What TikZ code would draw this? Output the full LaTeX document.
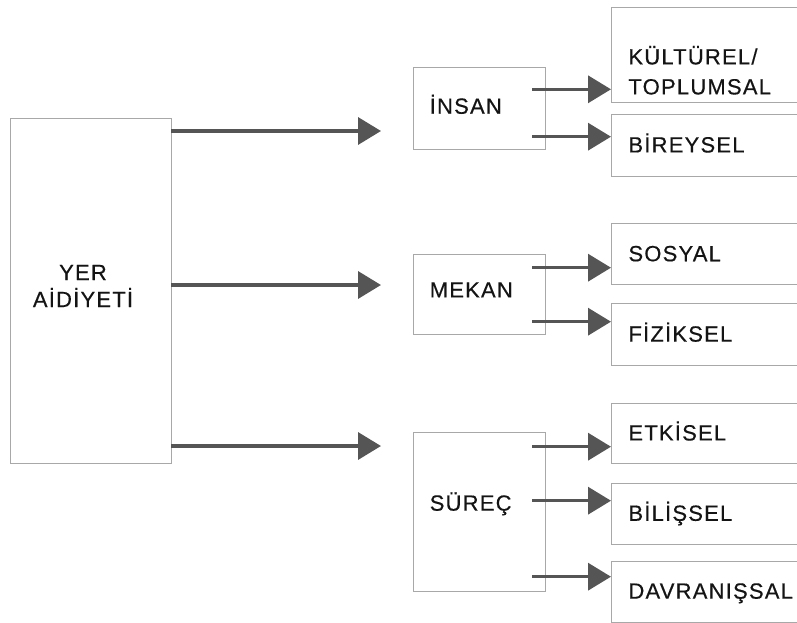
\documentclass[tikz,border=0pt]{standalone}
\usepackage{fontspec}
\setmainfont[LetterSpace=5.5,FakeBold=0.4]{Liberation Sans}
\usetikzlibrary{arrows.meta}
\definecolor{borde}{HTML}{A8A8A8}
\definecolor{flecha}{HTML}{555555}
\definecolor{texto}{HTML}{141414}

\begin{document}
\begin{tikzpicture}[x=1pt,y=-1pt,
    caja/.style={draw=borde,line width=0.9pt,anchor=north west,inner ysep=0pt,
      font=\fontsize{22}{28}\selectfont,text=texto},
    rama/.style={caja,inner xsep=16pt,text width=100pt,align=left,text height=16pt},
    hoja/.style={caja,inner xsep=17pt,text width=200pt,align=left},
    linea/.style={text height=16pt,text depth=2pt},
    flechita/.style={draw=flecha,line width=3.5pt,-{Triangle[length=23pt,width=27pt]}}]
        % Marco de la figura
        \clip (0,0) rectangle (797,623);
        % Caja principal
        \node[caja,minimum width=161pt,minimum height=345pt] (yer) at (9.5,118) {};
        \node[font=\fontsize{22}{27}\selectfont,text=texto,align=center] (yertxt) at (83,286) {YER\\AİDİYETİ};
        % Cajas intermedias
        \node[rama,minimum height=82pt,text depth=6pt] (insan) at (413.3,67.3) {İNSAN};
        \node[rama,minimum height=80pt,text depth=9pt] (mekan) at (413.3,253.5) {MEKAN};
        \node[rama,minimum height=159pt,text depth=18pt] (surec) at (413.3,431.7) {SÜREÇ};
        % Cajas de la derecha
        \node[hoja,font=\fontsize{22}{30}\selectfont,minimum height=94.5pt,text depth=0pt] (kultur) at (611,7.5) {KÜLTÜREL/\\TOPLUMSAL};
        \node[hoja,linea,minimum height=61pt] (birey) at (611,114.5) {BİREYSEL};

        \node[hoja,linea,minimum height=61pt] (sosyal) at (611,223.3) {SOSYAL};
        \node[hoja,linea,minimum height=61.7pt] (fizik) at (611,303.3) {FİZİKSEL};

        \node[hoja,linea,minimum height=60.6pt] (etki) at (611,402.7) {ETKİSEL};
        \node[hoja,linea,minimum height=61.3pt] (bilis) at (611,482.7) {BİLİŞSEL};
        \node[hoja,linea,minimum height=61pt] (davran) at (611,560.7) {DAVRANIŞSAL};
        % Flechas desde la caja principal
        \coordinate (f1) at (381,131);
        \coordinate (f2) at (381,285);
        \coordinate (f3) at (381,446);
        \draw[flechita] (f1 -| yer.east) -- (f1);
        \draw[flechita] (f2 -| yer.east) -- (f2);
        \draw[flechita] (f3 -| yer.east) -- (f3);
        % Flechas hacia las cajas de la derecha
        \coordinate (i1) at (532,89.3);
        \coordinate (i2) at (532,136.7);
        \coordinate (m1) at (532,267.7);
        \coordinate (m2) at (532,321.7);
        \coordinate (s1) at (532,446.7);
        \coordinate (s2) at (532,500.7);
        \coordinate (s3) at (532,576.7);
        \draw[flechita] (i1) -- (i1 -| kultur.west);
        \draw[flechita] (i2) -- (i2 -| birey.west);
        \draw[flechita] (m1) -- (m1 -| sosyal.west);
        \draw[flechita] (m2) -- (m2 -| fizik.west);
        \draw[flechita] (s1) -- (s1 -| etki.west);
        \draw[flechita] (s2) -- (s2 -| bilis.west);
        \draw[flechita] (s3) -- (s3 -| davran.west);
    \end{tikzpicture}
\end{document}
